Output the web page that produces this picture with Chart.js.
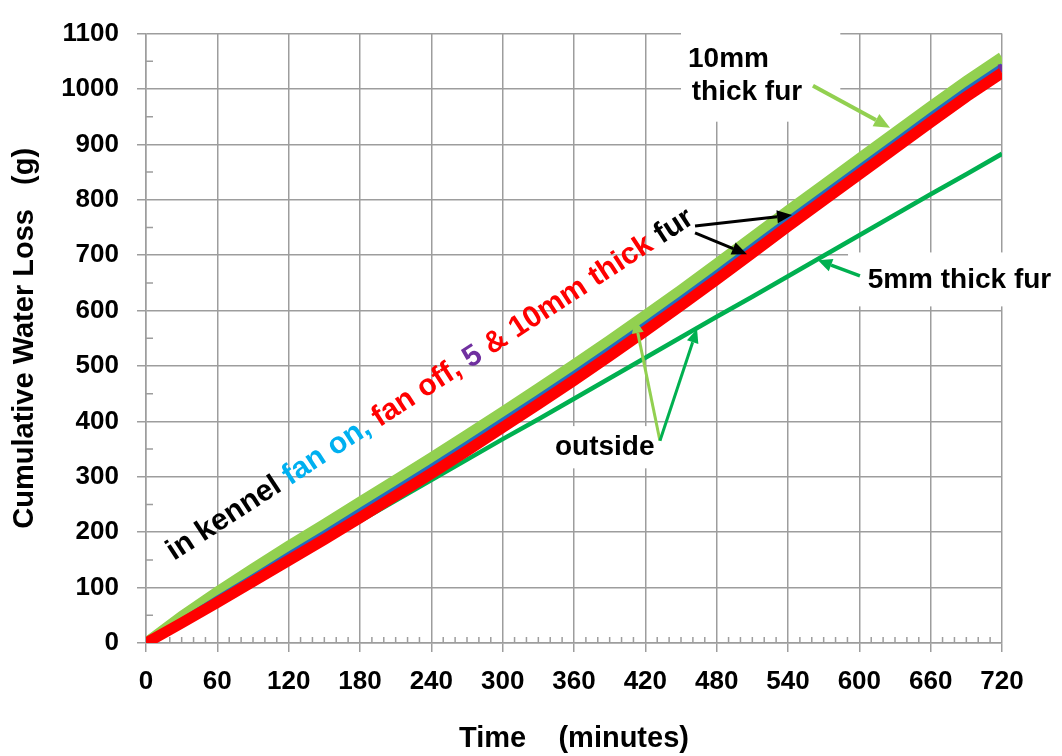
<!DOCTYPE html>
<html><head><meta charset="utf-8">
<script src="https://cdn.jsdelivr.net/npm/chart.js@4"></script>
<style>html,body{margin:0;padding:0;background:#fff}#wrap{width:1062px;height:756px;position:relative}</style>
</head><body><div id="wrap"><canvas id="c" width="1062" height="756"></canvas></div>
<script>
// ---- data (time in minutes, cumulative water loss in g) ----
const times = [0,30,60,90,120,150,180,210,240,270,300,330,360,390,420,450,480,510,540,570,600,630,660,690,720];
const kennelFanOff = [0,36,73,111,149,187,226,266,306,347,389,431,474,518,563,609,656,704,752,799,846,893,940,986,1029];
const kennelFanOn  = [0,42,82,121,161,200,240,280,320,361,403,445,488,532,577,623,670,718,766,813,860,907,954,1000,1043];
const kennel5mm    = [0,40,79,118,157,195,234,274,314,355,397,439,482,526,571,617,664,712,760,807,854,901,948,994,1037];
const outside10mm  = [0,48,92,134,175,214,254,294,334,375,417,459,502,546,591,637,684,732,780,827,874,921,968,1014,1057];
const outside5mm   = [0,37,74,110,147,183,220,257,294,331,368,404,441,478,515,552,589,625,662,699,736,773,810,846,883];
const xTickValues = [0,60,120,180,240,300,360,420,480,540,600,660,720];
const yTickValues = [0,100,200,300,400,500,600,700,800,900,1000,1100];

const FONT = '"Liberation Sans", Arial, sans-serif';
const GRID = '#9d9d9d';
const pts = arr => times.map((t,i)=>({x:t,y:arr[i]}));

const annot = {
  id:'annot',
  beforeDatasetsDraw(chart){
    const ctx = chart.ctx, xs = chart.scales.x, ys = chart.scales.y;
    const X = v=>xs.getPixelForValue(v), Y = v=>ys.getPixelForValue(v);
    ctx.save();
    // minor ticks
    ctx.strokeStyle = GRID; ctx.lineWidth = 1.5;
    ctx.beginPath();
    for(let t=10;t<720;t+=10){ if(t%60===0) continue; ctx.moveTo(X(t),Y(0)); ctx.lineTo(X(t),Y(0)-6); }
    for(let v=50;v<1100;v+=100){ ctx.moveTo(X(0),Y(v)); ctx.lineTo(X(0)+7,Y(v)); }
    ctx.stroke();
    // white text boxes
    ctx.fillStyle = '#fff';
    const box = (x1,y1,x2,y2)=>ctx.fillRect(X(x1),Y(y1),X(x2)-X(x1),Y(y2)-Y(y1));
    box(450,1145,584,941);
    box(590.5,705,790,607.6);
    box(340,391.5,434,315.3);
    ctx.restore();
  },
  afterDatasetsDraw(chart){
    const ctx = chart.ctx, xs = chart.scales.x, ys = chart.scales.y;
    const X = v=>xs.getPixelForValue(v), Y = v=>ys.getPixelForValue(v);
    ctx.save();
    const arrow = (x1,y1,x2,y2,color,w,hl,hw)=>{
      const ax=X(x1), ay=Y(y1), bx=X(x2), by=Y(y2);
      const ang = Math.atan2(by-ay,bx-ax);
      const cx = bx - hl*Math.cos(ang), cy = by - hl*Math.sin(ang);
      ctx.strokeStyle=color; ctx.fillStyle=color; ctx.lineWidth=w; ctx.lineCap='butt';
      ctx.beginPath(); ctx.moveTo(ax,ay); ctx.lineTo(cx,cy); ctx.stroke();
      ctx.beginPath(); ctx.moveTo(bx,by);
      ctx.lineTo(cx + hw/2*Math.sin(ang), cy - hw/2*Math.cos(ang));
      ctx.lineTo(cx - hw/2*Math.sin(ang), cy + hw/2*Math.cos(ang));
      ctx.closePath(); ctx.fill();
    };
    // arrows
    arrow(561,1006,625.8,930,'#92d050',4,16,14);
    arrow(600.5,662.5,565.2,691,'#00b050',3.5,14,13);
    arrow(432.3,365,411.3,584.6,'#92d050',3,14,12);
    arrow(432.3,365,463.5,566.9,'#00b050',3,14,12);
    arrow(461.8,752.9,543.4,772.4,'#000',3,15,13);
    arrow(461.8,740.5,505.5,701.5,'#000',3,15,13);
    // texts
    ctx.font = 'bold 28px '+FONT;
    ctx.textBaseline = 'middle'; ctx.textAlign = 'left'; ctx.fillStyle = '#000';
    ctx.fillText('10mm', X(455.9), Y(1054));
    ctx.fillText('thick fur', X(459), Y(994));
    ctx.fillText('5mm thick fur', X(607), Y(655));
    ctx.fillText('outside', X(344), Y(354));
    // rotated multicolour label
    ctx.save();
    ctx.font = 'bold 30px '+FONT;
    ctx.translate(X(23.5), Y(148));
    ctx.rotate(-33*Math.PI/180);
    ctx.textBaseline = 'alphabetic';
    const segs = [['in kennel ','#000'],['fan on,','#00b0f0'],[' fan off, ','#ff0000'],['5','#7030a0'],[' & 10mm thick','#ff0000'],[' fur','#000']];
    let px = 0;
    for(const [s,c] of segs){ ctx.fillStyle=c; ctx.fillText(s,px,0); px += ctx.measureText(s).width; }
    ctx.restore();
    ctx.restore();
  }
};

new Chart(document.getElementById('c'), {
  type:'line',
  data:{
    datasets:[
      {label:'in kennel, fan off', data:pts(kennelFanOff), borderColor:'#ff0000', borderWidth:11, pointRadius:0, order:1},
      {label:'in kennel, 5mm fur', data:pts(kennel5mm), borderColor:'#7030a0', borderWidth:4, order:2,
        pointRadius: times.map((t,i)=> i===times.length-1 ? 3 : 0), pointStyle:'rect', pointBackgroundColor:'#7030a0', pointBorderColor:'#7030a0'},
      {label:'in kennel, fan on', data:pts(kennelFanOn), borderColor:'#1f6fc0', borderWidth:4, pointRadius:0, order:3},
      {label:'outside, 10mm fur', data:pts(outside10mm), borderColor:'#92d050', borderWidth:11, pointRadius:0, order:4},
      {label:'outside, 5mm fur', data:pts(outside5mm), borderColor:'#00b050', borderWidth:4.5, pointRadius:0, order:5}
    ]
  },
  options:{
    responsive:false, animation:false,
    layout:{padding:{left:0,right:60,top:11,bottom:0}},
    plugins:{legend:{display:false}, tooltip:{enabled:false}},
    elements:{line:{tension:0, borderCapStyle:'butt'}},
    scales:{
      x:{type:'linear', min:0, max:720,
        afterBuildTicks(s){ s.ticks = xTickValues.map(v=>({value:v})); },
        afterFit(s){ s.height = 113; },
        ticks:{color:'#000', font:{family:FONT, size:26, weight:'bold'}, padding:14, maxRotation:0, callback:v=>String(v)},
        grid:{color:GRID, lineWidth:1.5, tickLength:9},
        border:{color:GRID, width:1.5},
        title:{display:true, text:'Time    (minutes)', color:'#000', font:{family:FONT, size:29, weight:'bold'}, padding:{top:0,bottom:0}}
      },
      y:{type:'linear', min:0, max:1100,
        afterBuildTicks(s){ s.ticks = yTickValues.map(v=>({value:v})); },
        afterFit(s){ s.width = 146; },
        ticks:{color:'#000', font:{family:FONT, size:26, weight:'bold'}, padding:18, callback:v=>String(v)},
        grid:{color:GRID, lineWidth:1.5, tickLength:9},
        border:{color:GRID, width:1.5},
        title:{display:true, text:'Cumulative Water Loss   (g)', color:'#000', font:{family:FONT, size:29, weight:'bold'}, padding:{top:8,bottom:0}}
      }
    }
  },
  plugins:[annot]
});
</script>
</body></html>
